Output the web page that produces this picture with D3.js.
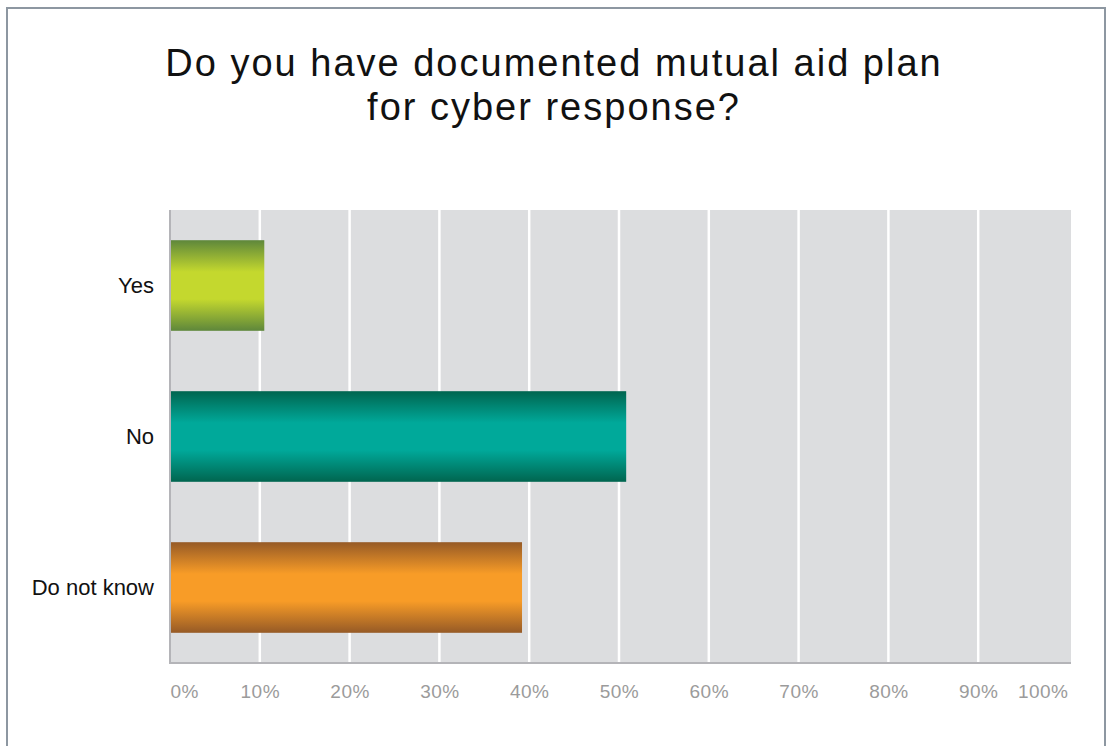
<!DOCTYPE html>
<html>
<head>
<meta charset="utf-8">
<script src="https://cdn.jsdelivr.net/npm/d3@7"></script>
<style>
  body { margin: 0; background: #fff; }
  text { font-family: "Liberation Sans", Arial, sans-serif; }
</style>
</head>
<body>
<div id="chart"></div>
<script>
// Chart data
const categories = ["Yes", "No", "Do not know"];
const values = [10.5, 50.8, 39.2];
const tickValues = [0, 10, 20, 30, 40, 50, 60, 70, 80, 90, 100];
const titleLines = ["Do you have documented mutual aid plan", "for cyber response?"];

const width = 1107;
const height = 746;

const svg = d3.select("#chart")
  .append("svg")
  .attr("width", width)
  .attr("height", height);

// Gradients for bars (dark edge -> bright middle -> dark edge)
const gradColors = [
  { edge: "#5e873b", mid: "#c4d82e" },
  { edge: "#00654f", mid: "#00a99a" },
  { edge: "#965a26", mid: "#f89c27" }
];
const defs = svg.append("defs");
gradColors.forEach((c, i) => {
  const g = defs.append("linearGradient")
    .attr("id", "grad" + i)
    .attr("x1", 0).attr("y1", 0).attr("x2", 0).attr("y2", 1);
  g.append("stop").attr("offset", "0%").attr("stop-color", c.edge);
  g.append("stop").attr("offset", "35%").attr("stop-color", c.mid);
  g.append("stop").attr("offset", "65%").attr("stop-color", c.mid);
  g.append("stop").attr("offset", "100%").attr("stop-color", c.edge);
});

// Outer frame
svg.append("rect")
  .attr("x", 7).attr("y", 8)
  .attr("width", 1098).attr("height", 750)
  .attr("fill", "none")
  .attr("stroke", "#8d97a1")
  .attr("stroke-width", 2);

// Title
svg.append("text")
  .attr("text-anchor", "middle")
  .attr("font-size", 38)
  .attr("letter-spacing", 2)
  .attr("fill", "#111")
  .selectAll("tspan")
  .data(titleLines)
  .join("tspan")
  .attr("x", 554)
  .attr("y", (d, i) => 76 + i * 44)
  .text(d => d);

// Plot area
const plot = { left: 170, right: 1068, top: 210, bottom: 663 };

const x = d3.scaleLinear().domain([0, 100]).range([plot.left, plot.right]);
const y = d3.scaleBand()
  .domain(categories)
  .range([plot.top, plot.bottom])
  .paddingInner(0.4)
  .paddingOuter(0.2);

svg.append("rect")
  .attr("x", plot.left).attr("y", plot.top)
  .attr("width", plot.right + 3 - plot.left)
  .attr("height", plot.bottom - plot.top)
  .attr("fill", "#dcdddf");

// Gridlines
svg.append("g")
  .selectAll("line")
  .data(tickValues.slice(1, -1))
  .join("line")
  .attr("x1", d => x(d)).attr("x2", d => x(d))
  .attr("y1", plot.top).attr("y2", plot.bottom)
  .attr("stroke", "#fff")
  .attr("stroke-width", 2.5);

// Bars
svg.append("g")
  .selectAll("rect")
  .data(values)
  .join("rect")
  .attr("x", x(0) + 1)
  .attr("y", (d, i) => y(categories[i]))
  .attr("width", d => x(d) - x(0) - 1)
  .attr("height", y.bandwidth())
  .attr("fill", (d, i) => `url(#grad${i})`);

// Axis lines
svg.append("line")
  .attr("x1", plot.left).attr("x2", plot.left)
  .attr("y1", plot.top).attr("y2", plot.bottom + 1)
  .attr("stroke", "#b4b4b8").attr("stroke-width", 2);
svg.append("line")
  .attr("x1", plot.left).attr("x2", plot.right + 3)
  .attr("y1", plot.bottom).attr("y2", plot.bottom)
  .attr("stroke", "#b4b4b8").attr("stroke-width", 2);

// X axis labels
const xAxis = d3.axisBottom(x)
  .tickValues(tickValues)
  .tickFormat(d => d + "%")
  .tickSize(0)
  .tickPadding(0);
const gx = svg.append("g")
  .attr("transform", `translate(0,${plot.bottom})`)
  .call(xAxis);
gx.select(".domain").remove();
gx.selectAll("text")
  .attr("font-family", "Liberation Sans, Arial, sans-serif")
  .attr("font-size", 19)
  .attr("letter-spacing", 0.5)
  .attr("fill", "#9b9b9b")
  .attr("dy", 0)
  .attr("y", 35)
  .attr("text-anchor", (d, i) => i === 0 ? "start" : i === tickValues.length - 1 ? "end" : "middle");

// Y axis labels
const yAxis = d3.axisLeft(y).tickSize(0).tickPadding(16);
const gy = svg.append("g")
  .attr("transform", `translate(${plot.left},0)`)
  .call(yAxis);
gy.select(".domain").remove();
gy.selectAll("text")
  .attr("font-family", "Liberation Sans, Arial, sans-serif")
  .attr("font-size", 22)
  .attr("fill", "#111");
</script>
</body>
</html>
